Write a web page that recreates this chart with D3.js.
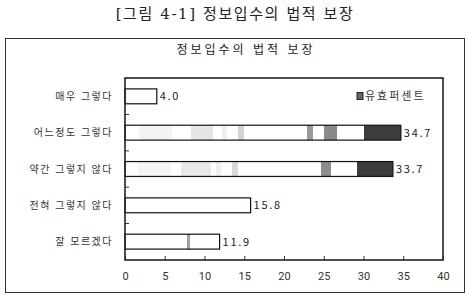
<!DOCTYPE html>
<html lang="ko">
<head>
  <meta charset="UTF-8">
  <title>정보입수의 법적 보장</title>
  <script src="https://d3js.org/d3.v7.min.js"></script>
  <style>
    body { margin: 0; background: #fff; }
    text { font-family: "Noto Sans CJK KR", "Noto Sans", sans-serif; }
  </style>
</head>
<body>
<script>
  // chart data
  const categories = ['매우 그렇다', '어느정도 그렇다', '약간 그렇지 않다', '전혀 그렇지 않다', '잘 모르겠다'];
  const values = [4.0, 34.7, 33.7, 15.8, 11.9];
  const xTicks = [0, 5, 10, 15, 20, 25, 30, 35, 40];
  const legendLabel = '유효퍼센트';

  const width = 468, height = 295;
  const plot = { left: 125, right: 443, top: 78, bottom: 260 };

  const svg = d3.select('body').append('svg')
    .attr('width', width)
    .attr('height', height);

  // shading stripes seen inside the bars (fractions of bar length)
  const shades = {
    1: [[0.05, 0.17, '#f3f3f3'], [0.24, 0.32, '#e6e6e6'], [0.35, 0.37, '#efefef'], [0.41, 0.43, '#d4d4d4'],
        [0.66, 0.68, '#9a9a9a'], [0.72, 0.77, '#8a8a8a'], [0.866, 1, '#3c3c3c']],
    2: [[0.05, 0.17, '#f5f5f5'], [0.21, 0.32, '#e8e8e8'], [0.34, 0.36, '#efefef'], [0.40, 0.42, '#d8d8d8'],
        [0.73, 0.77, '#8e8e8e'], [0.866, 1, '#3c3c3c']],
    4: [[0.66, 0.685, '#a0a0a0']]
  };

  const defs = svg.append('defs');
  Object.entries(shades).forEach(([i, segs]) => {
    const g = defs.append('linearGradient').attr('id', 'shade' + i)
      .attr('x1', 0).attr('x2', 1).attr('y1', 0).attr('y2', 0);
    segs.forEach(([a, b, c]) => {
      g.append('stop').attr('offset', a).attr('stop-color', '#fff');
      g.append('stop').attr('offset', a).attr('stop-color', c);
      g.append('stop').attr('offset', b).attr('stop-color', c);
      g.append('stop').attr('offset', b).attr('stop-color', '#fff');
    });
  });

  // figure caption
  svg.append('text')
    .attr('x', 235).attr('y', 19)
    .attr('text-anchor', 'middle')
    .style('font-family', '"DejaVu Serif", "Noto Sans CJK KR", serif')
    .style('font-size', '15px')
    .style('letter-spacing', '1.6px')
    .attr('fill', '#222')
    .text('[그림 4-1] 정보입수의 법적 보장');

  // outer frame
  svg.append('rect')
    .attr('x', 5.5).attr('y', 38.5)
    .attr('width', 459).attr('height', 254)
    .attr('fill', 'none').attr('stroke', '#333').attr('stroke-width', 1);

  svg.append('text')
    .attr('x', 246).attr('y', 54)
    .attr('text-anchor', 'middle')
    .style('font-size', '12px')
    .style('letter-spacing', '3px')
    .attr('fill', '#222')
    .text('정보입수의 법적 보장');

  const x = d3.scaleLinear().domain([0, 40]).range([plot.left, plot.right]);
  const y = d3.scaleBand().domain(categories).range([plot.top, plot.bottom]).paddingInner(0.59).paddingOuter(0.3);

  // bars
  svg.selectAll('rect.bar')
    .data(values)
    .enter().append('rect')
    .attr('class', 'bar')
    .attr('x', x(0))
    .attr('y', (d, i) => y(categories[i]))
    .attr('width', d => x(d) - x(0))
    .attr('height', y.bandwidth())
    .attr('fill', (d, i) => shades[i] ? `url(#shade${i})` : '#fff')
    .attr('stroke', '#111')
    .attr('stroke-width', 1.2);

  // value labels
  svg.selectAll('text.val')
    .data(values)
    .enter().append('text')
    .attr('class', 'val')
    .attr('x', d => x(d) + 3)
    .attr('y', (d, i) => y(categories[i]) + y.bandwidth() / 2 + 4)
    .style('font-size', '11px')
    .style('letter-spacing', '1.7px')
    .attr('fill', '#222')
    .text(d => d.toFixed(1));

  // category labels
  svg.selectAll('text.cat')
    .data(categories)
    .enter().append('text')
    .attr('class', 'cat')
    .attr('x', 113)
    .attr('y', d => y(d) + y.bandwidth() / 2 + 3.5)
    .attr('text-anchor', 'end')
    .style('font-size', '10px')
    .style('letter-spacing', '1.5px')
    .attr('fill', '#333')
    .text(d => d);

  // x axis
  const xAxis = d3.axisBottom(x).tickValues(xTicks).tickSize(-4).tickPadding(12);
  const gx = svg.append('g')
    .attr('transform', `translate(0,${plot.bottom})`)
    .call(xAxis);
  gx.select('.domain').remove();
  gx.selectAll('line').attr('stroke', '#333');
  gx.selectAll('text')
    .style('font-size', '11px')
    .style('font-family', 'Roboto, "Noto Sans", sans-serif')
    .attr('fill', '#333');

  // small ticks on y axis between categories
  const step = y.step();
  const boundaries = categories.slice(1).map(c => y(c) - (step - y.bandwidth()) / 2);
  svg.selectAll('line.ytick')
    .data(boundaries)
    .enter().append('line')
    .attr('x1', plot.left).attr('x2', plot.left + 4)
    .attr('y1', d => d).attr('y2', d => d)
    .attr('stroke', '#333');

  // plot border
  svg.append('rect')
    .attr('x', plot.left).attr('y', plot.top)
    .attr('width', plot.right - plot.left).attr('height', plot.bottom - plot.top)
    .attr('fill', 'none').attr('stroke', '#222').attr('stroke-width', 1.6);

  // legend
  const lg = svg.append('g').attr('transform', 'translate(357,96)');
  lg.append('rect')
    .attr('x', 0).attr('y', -3.5).attr('width', 6).attr('height', 7)
    .attr('fill', '#666').attr('stroke', '#222').attr('stroke-width', 1);
  lg.append('text')
    .attr('x', 8).attr('y', 4)
    .style('font-size', '11px')
    .style('letter-spacing', '2px')
    .attr('fill', '#333')
    .text(legendLabel);
</script>
</body>
</html>
